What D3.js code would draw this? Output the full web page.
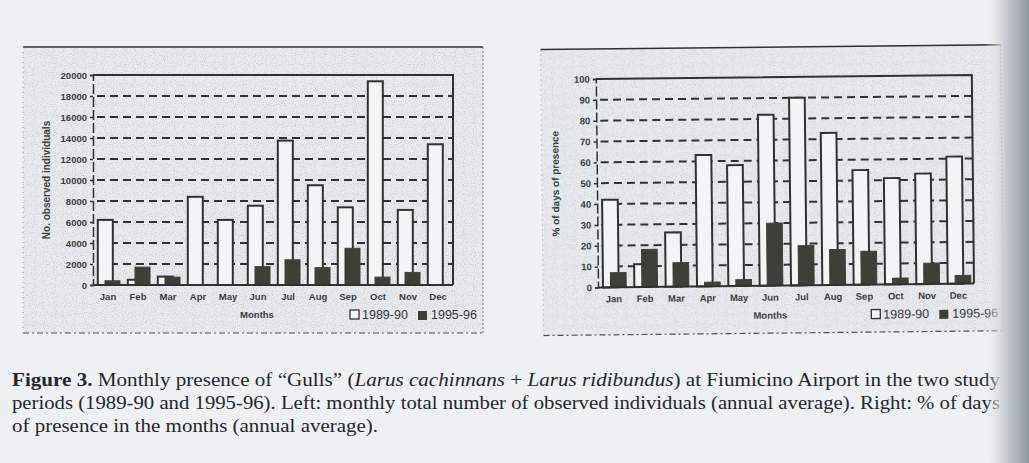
<!DOCTYPE html>
<html>
<head>
<meta charset="utf-8">
<script src="https://cdn.jsdelivr.net/npm/d3@7"></script>
<style>
  body { margin: 0; background: #eef0f2; }
  svg { display: block; }
</style>
</head>
<body>
<div id="chart"></div>
<script>
var width = 1029,
    height = 463;

var months = ['Jan', 'Feb', 'Mar', 'Apr', 'May', 'Jun', 'Jul', 'Aug', 'Sep', 'Oct', 'Nov', 'Dec'];
var seriesNames = ['1989-90', '1995-96'];

// left: monthly number of observed individuals
var individuals8990 = [6200, 500, 800, 8400, 6200, 7550, 13750, 9500, 7400, 19400, 7150, 13400];
var individuals9596 = [400, 1700, 750, 50, 0, 1750, 2400, 1650, 3500, 750, 1200, 50];
var individualTicks = [0, 2000, 4000, 6000, 8000, 10000, 12000, 14000, 16000, 18000, 20000];

// right: % of days of presence
var presence8990 = [42, 11, 26, 63, 58, 82, 90, 73, 55, 51, 53, 61];
var presence9596 = [7, 18, 11.5, 2, 3, 30, 19, 17, 16, 3, 10, 4];
var presenceTicks = [0, 10, 20, 30, 40, 50, 60, 70, 80, 90, 100];

var ink = '#2f332f',
    darkBar = '#3b4139',
    labelFont = 'Liberation Sans, Arial, sans-serif';

var svg = d3.select('#chart').append('svg')
  .attr('width', width)
  .attr('height', height);

var defs = svg.append('defs');
var edge = defs.append('linearGradient').attr('id', 'edge').attr('x1', 0).attr('x2', 1);
edge.append('stop').attr('offset', 0).attr('stop-color', '#eef0f2').attr('stop-opacity', 0);
edge.append('stop').attr('offset', 0.45).attr('stop-color', '#c9ced4');
edge.append('stop').attr('offset', 1).attr('stop-color', '#8f97a1');

// scan grain
var grain = defs.append('filter').attr('id', 'grain').attr('x', 0).attr('y', 0).attr('width', 1).attr('height', 1);
grain.append('feTurbulence').attr('type', 'fractalNoise').attr('baseFrequency', 0.9).attr('numOctaves', 1).attr('seed', 3).attr('result', 'n');
grain.append('feColorMatrix').attr('in', 'n').attr('type', 'matrix')
  .attr('values', '0 0 0 0 0.2  0 0 0 0 0.2  0 0 0 0 0.2  0 0 0 -2.6 1.3');
grain.append('feComposite').attr('in2', 'SourceGraphic').attr('operator', 'in');

svg.append('rect').attr('width', width).attr('height', height).attr('fill', '#eef0f2');

function drawChart(opt) {
  var g = svg.append('g').attr('transform', opt.transform || null);

  // panel box
  var p = opt.panel;
  g.append('rect').attr('x', p[0]).attr('y', p[1]).attr('width', p[2] - p[0]).attr('height', p[3] - p[1])
    .attr('fill', '#e9eaed');
  g.append('rect').attr('x', p[0]).attr('y', p[1]).attr('width', p[2] - p[0]).attr('height', p[3] - p[1])
    .attr('fill', '#fff').attr('filter', 'url(#grain)').attr('opacity', 0.35);
  g.append('line').attr('x1', p[0]).attr('x2', p[2]).attr('y1', p[1]).attr('y2', p[1])
    .attr('stroke', ink).attr('stroke-width', 1.6);
  g.append('line').attr('x1', p[2]).attr('x2', p[2]).attr('y1', p[1]).attr('y2', p[3])
    .attr('stroke', '#6b6f74').attr('stroke-width', 1).attr('stroke-dasharray', '2,2');
  g.append('line').attr('x1', p[0]).attr('x2', p[2]).attr('y1', p[3]).attr('y2', p[3])
    .attr('stroke', '#4b4f54').attr('stroke-width', 1.2).attr('stroke-dasharray', '6,3,2,3');
  g.append('line').attr('x1', p[0]).attr('x2', p[0]).attr('y1', p[1]).attr('y2', p[3])
    .attr('stroke', '#9a9ea4').attr('stroke-width', 1).attr('stroke-dasharray', '1,4');

  var x = d3.scaleBand().domain(months).range([opt.x0, opt.x1]).paddingInner(0).paddingOuter(0);
  var y = d3.scaleLinear().domain([0, opt.ticks[opt.ticks.length - 1]]).range([opt.y0, opt.y1]);
  var bw = x.bandwidth();

  // dashed grid
  g.append('g').selectAll('line')
    .data(opt.ticks.slice(1, -1))
    .enter().append('line')
    .attr('x1', opt.x0 + 4).attr('x2', opt.x1)
    .attr('y1', function(d) { return y(d); })
    .attr('y2', function(d) { return y(d); })
    .attr('stroke', ink).attr('stroke-width', 2).attr('stroke-dasharray', '8,5');

  // frame
  g.append('path')
    .attr('d', 'M' + opt.x0 + ',' + y.range()[1] + 'H' + opt.x1 + 'V' + opt.y0)
    .attr('fill', 'none').attr('stroke', ink).attr('stroke-width', 2);

  // bars
  g.append('g').selectAll('rect')
    .data(opt.a)
    .enter().append('rect')
    .attr('x', function(d, i) { return x(months[i]) + bw * 0.16; })
    .attr('width', bw * 0.5)
    .attr('y', function(d) { return y(d); })
    .attr('height', function(d) { return opt.y0 - y(d); })
    .attr('fill', '#f3f4f5').attr('stroke', ink).attr('stroke-width', 2);

  g.append('g').selectAll('rect')
    .data(opt.b)
    .enter().append('rect')
    .attr('x', function(d, i) { return x(months[i]) + bw * 0.4; })
    .attr('width', bw * 0.5)
    .attr('y', function(d) { return y(d); })
    .attr('height', function(d) { return opt.y0 - y(d); })
    .attr('fill', darkBar).attr('stroke', darkBar).attr('stroke-width', 1);

  // axes
  var yAxis = g.append('g')
    .attr('transform', 'translate(' + opt.x0 + ',0)')
    .call(d3.axisLeft(y).tickValues(opt.ticks).tickSize(3).tickPadding(3).tickFormat(d3.format('d')));
  yAxis.select('.domain').attr('stroke', ink).attr('stroke-width', 1.5).attr('stroke-dasharray', '10,3');
  yAxis.selectAll('.tick line').attr('stroke', ink).attr('stroke-width', 1.5);
  yAxis.selectAll('text').attr('font-family', labelFont)
    .attr('font-size', 9.5).attr('font-weight', 'bold').attr('fill', '#3a3d40');

  g.append('line').attr('x1', opt.x0).attr('x2', opt.x1).attr('y1', opt.y0).attr('y2', opt.y0)
    .attr('stroke', ink).attr('stroke-width', 2);

  g.append('g').selectAll('text')
    .data(months)
    .enter().append('text')
    .attr('x', function(d) { return x(d) + bw / 2; })
    .attr('y', opt.y0 + 15)
    .attr('text-anchor', 'middle')
    .attr('font-family', labelFont)
    .attr('font-size', 9.5).attr('font-weight', 'bold').attr('fill', '#3a3d40')
    .text(function(d) { return d; });

  g.append('text')
    .attr('x', (opt.x0 + opt.x1) / 2 - 16).attr('y', opt.y0 + 33)
    .attr('text-anchor', 'middle')
    .attr('font-family', labelFont)
    .attr('font-size', 9.5).attr('font-weight', 'bold').attr('fill', '#3a3d40')
    .text('Months');

  g.append('text')
    .attr('transform', 'translate(' + opt.titleX + ',' + (opt.y0 + opt.y1) / 2 + ') rotate(-90)')
    .attr('text-anchor', 'middle')
    .attr('font-family', labelFont)
    .attr('font-size', 10).attr('font-weight', 'bold').attr('fill', '#3a3d40')
    .text(opt.title);

  // legend
  var lg = g.append('g').attr('transform', 'translate(' + opt.legendX + ',' + (opt.y0 + 33) + ')');
  lg.append('rect').attr('x', 0).attr('y', -8).attr('width', 9).attr('height', 9)
    .attr('fill', '#f3f4f5').attr('stroke', ink).attr('stroke-width', 1.3);
  lg.append('text').attr('x', 12).attr('y', 1)
    .attr('font-family', labelFont).attr('font-size', 12.5).attr('fill', '#34373a')
    .text(seriesNames[0]);
  lg.append('rect').attr('x', 68).attr('y', -7).attr('width', 9).attr('height', 9).attr('fill', darkBar);
  lg.append('text').attr('x', 81).attr('y', 1)
    .attr('font-family', labelFont).attr('font-size', 12.5).attr('fill', '#34373a')
    .text(seriesNames[1]);
}

drawChart({
  panel: [23, 47, 483, 333],
  x0: 93, x1: 453, y0: 285, y1: 75,
  a: individuals8990, b: individuals9596, ticks: individualTicks,
  title: 'No. observed individuals', titleX: 50, legendX: 350
});

drawChart({
  panel: [542, 47, 1002, 333],
  x0: 597, x1: 973, y0: 285.5, y1: 77,
  a: presence8990, b: presence9596, ticks: presenceTicks,
  title: '% of days of presence', titleX: 559, legendX: 870,
  transform: 'rotate(-0.6, 785, 190)'
});

// caption
var caption = svg.append('g')
  .attr('font-family', 'Liberation Serif, DejaVu Serif, serif')
  .attr('font-size', 18).attr('fill', '#25272a');

var l1 = caption.append('text').attr('x', 12).attr('y', 386)
  .attr('textLength', 988).attr('lengthAdjust', 'spacingAndGlyphs');
l1.append('tspan').attr('font-weight', 'bold').text('Figure 3.');
l1.append('tspan').text(' Monthly presence of \u201cGulls\u201d (');
l1.append('tspan').attr('font-style', 'italic').text('Larus cachinnans');
l1.append('tspan').text(' + ');
l1.append('tspan').attr('font-style', 'italic').text('Larus ridibundus');
l1.append('tspan').text(') at Fiumicino Airport in the two study');

caption.append('text').attr('x', 12).attr('y', 409)
  .attr('textLength', 988).attr('lengthAdjust', 'spacingAndGlyphs')
  .text('periods (1989-90 and 1995-96). Left: monthly total number of observed individuals (annual average). Right: % of days');

caption.append('text').attr('x', 12).attr('y', 432)
  .attr('textLength', 366).attr('lengthAdjust', 'spacingAndGlyphs')
  .text('of presence in the months (annual average).');

// page edge shadow
svg.append('rect').attr('x', 985).attr('y', 0).attr('width', 44).attr('height', height).attr('fill', 'url(#edge)');
</script>
</body>
</html>
